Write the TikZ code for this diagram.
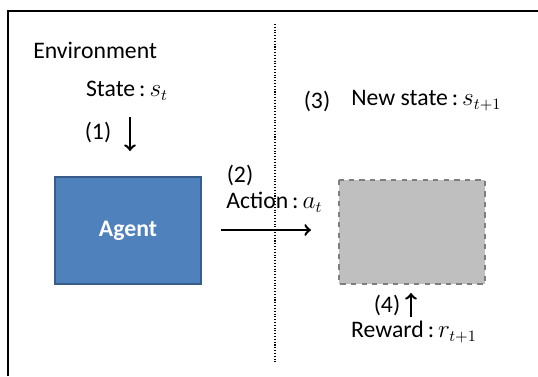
\documentclass[tikz,border=0pt]{standalone}
\usepackage{amsmath}
\usepackage{xcolor}
\usepackage{fontspec}
\setmainfont{Carlito}
\usepackage{tikz}

\definecolor{agentblue}{HTML}{4F81BD}
\definecolor{agentedge}{HTML}{385D8A}
\definecolor{envgray}{HTML}{BFBFBF}
\definecolor{envedge}{HTML}{7F7F7F}

\begin{document}
\begin{tikzpicture}[x=0.02cm,y=-0.02cm,
                    every node/.style={font=\fontsize{13.5}{16}\selectfont,inner sep=0pt},
                    agentbox/.style={fill=agentblue,draw=agentedge,line width=0.6pt},
                    envbox/.style={fill=envgray,draw=envedge,dashed,line width=0.9pt},
                    flow/.style={->,line width=1.4pt}]
                    \useasboundingbox (0,0) rectangle (538,376);
                    \draw[line width=1.7pt] (8,376) -- (8,11) -- (538,11);
                    \draw[densely dotted,line width=0.6pt] (275,24) -- (275,363);

                    \draw[agentbox] (55,177) rectangle (201,284);
                    \node[text=white,font=\fontsize{13.5}{16}\selectfont\bfseries] (agent) at (128,231) {Agent};
                    \draw[envbox] (339,180) rectangle (485,284);

                    \node[anchor=west] (env) at (33,50) {Environment};
                    \node (state) at (127,91) {State\,:\,$s_t$};
                    \node (one) at (98,132) {(1)};
                    \coordinate (s1) at (130,117);
                    \coordinate (e1) at (130,151);
                    \draw[flow] (s1) -- (e1);

                    \node (two) at (240,175) {(2)};
                    \node[anchor=west] (action) at (226,202) {Action\,:\,$a_t$};
                    \coordinate (s2) at (221,230);
                    \coordinate (e2) at (311,230);
                    \draw[flow] (s2) -- (e2);

                    \node (three) at (317,101) {(3)};
                    \node[anchor=west] (newstate) at (351,101) {New state\,:\,$s_{t+1}$};

                    \node (four) at (387,305) {(4)};
                    \coordinate (s4) at (411,317);
                    \coordinate (e4) at (411,293);
                    \draw[flow] (s4) -- (e4);
                    \node (reward) at (414,332) {Reward\,:\,$r_{t+1}$};
                \end{tikzpicture}
\end{document}
